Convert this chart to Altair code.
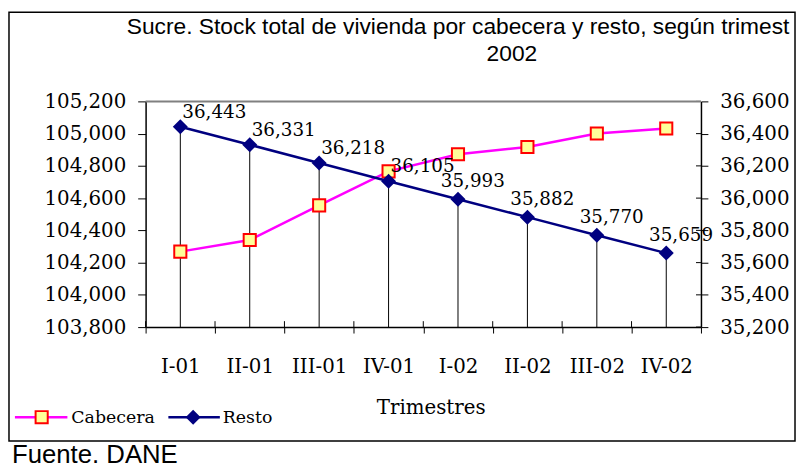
import altair as alt
import pandas as pd

# ---- data ----
trimestres = ["I-01", "II-01", "III-01", "IV-01", "I-02", "II-02", "III-02", "IV-02"]
cabecera = [104268, 104340, 104555, 104766, 104872, 104917, 105001, 105032]
resto = [36443, 36331, 36218, 36105, 35993, 35882, 35770, 35659]
left_ticks = [103800, 104000, 104200, 104400, 104600, 104800, 105000, 105200]
right_ticks = [35200, 35400, 35600, 35800, 36000, 36200, 36400, 36600]
series = ["Cabecera", "Resto"]
title_lines = ["Sucre. Stock total de vivienda por cabecera y resto, según trimest", "2002"]
source_text = "Fuente. DANE"
x_title = "Trimestres"

df = pd.DataFrame({"Trimestre": trimestres, "Cabecera": cabecera, "Resto": resto})
rt = pd.DataFrame({"t": right_ticks})
one = pd.DataFrame({"k": [0]})

W, H = 561, 228
SERIF = "DejaVu Serif"
SANS = "Liberation Sans"
MAGENTA = "#FF00FF"
NAVY = "#000080"

xscale = alt.Scale(type="band", paddingInner=0, paddingOuter=0)
x_axis = alt.Axis(
    title=x_title, labelAngle=0, tickBand="extent", tickSize=6, tickColor="black",
    tickWidth=1, domainColor="black", domainWidth=1.5, labelFont=SERIF, labelFontSize=20,
    labelColor="black", labelBaseline="alphabetic", labelPadding=40, titleFont=SERIF,
    titleFontSize=20, titleFontWeight="normal", titleColor="black", titleX=288,
    titleY=87, titleBaseline="alphabetic", titleAlign="center", grid=False,
)


def xenc(bp=0.5):
    return alt.X("Trimestre:N", sort=trimestres, scale=xscale, bandPosition=bp, axis=x_axis)


lscale = alt.Scale(domain=[103800, 105200], nice=False, zero=False)
rscale = alt.Scale(domain=[35200, 36600], nice=False, zero=False)

left_axis = alt.Axis(
    orient="left", values=left_ticks, format=",.0f", title=None, tickSize=8, tickColor="black",
    domainColor="black", domainWidth=1.5, labelFont=SERIF, labelFontSize=20,
    labelColor="black", labelPadding=12, grid=False,
)
right_axis = alt.Axis(
    orient="right", values=right_ticks, format=",.0f", title=None, tickSize=7, tickColor="black",
    domainColor="black", domainWidth=1.5, labelFont=SERIF, labelFontSize=20,
    labelColor="black", labelPadding=12, grid=False,
)

base = alt.Chart(df)

# group C: drop lines and inward ticks (right-value scale, no axis)
drop = base.mark_rule(color="black", strokeWidth=1).encode(
    x=xenc(), y=alt.Y("Resto:Q", scale=rscale, axis=None), y2=alt.value(H)
)
xin = base.mark_rule(color="black", strokeWidth=1).encode(
    x=xenc(0), y=alt.value(H - 6), y2=alt.value(H),
)
rin = alt.Chart(rt).mark_rule(color="black", strokeWidth=1).encode(
    y=alt.Y("t:Q", scale=rscale, axis=None), x=alt.value(W - 5), x2=alt.value(W)
)
top_line = alt.Chart(one).mark_rule(color="#808080", strokeWidth=2).encode(
    x=alt.value(0), x2=alt.value(W), y=alt.value(0)
)
groupC = alt.layer(drop, xin, rin, top_line)

# group A: Cabecera (left scale)
cab_line = base.mark_line(color=MAGENTA, strokeWidth=2.5).encode(
    x=xenc(), y=alt.Y("Cabecera:Q", scale=lscale, axis=left_axis)
)
cab_pts = base.mark_point(
    shape="square", size=150, filled=True, fill="#FFFF99", stroke="#FF0000",
    strokeWidth=2, opacity=1
).encode(x=xenc(), y=alt.Y("Cabecera:Q", scale=lscale, axis=left_axis))
groupA = alt.layer(cab_line, cab_pts)

# group B: Resto (right scale)
res_line = base.mark_line(color=NAVY, strokeWidth=2.5).encode(
    x=xenc(), y=alt.Y("Resto:Q", scale=rscale, axis=right_axis)
)
res_pts = base.mark_point(
    shape="diamond", size=230, filled=True, color=NAVY, opacity=1
).encode(x=xenc(), y=alt.Y("Resto:Q", scale=rscale, axis=right_axis))
lbl_enc = dict(
    x=xenc(), y=alt.Y("Resto:Q", scale=rscale, axis=right_axis),
    text=alt.Text("Resto:Q", format=","),
)
res_lbl1 = base.transform_filter(
    alt.FieldOneOfPredicate(field="Trimestre", oneOf=trimestres[:4])
).mark_text(
    align="left", baseline="alphabetic", dx=2, dy=-9, font=SERIF, fontSize=18.5, color="black"
).encode(**lbl_enc)
res_lbl2 = base.transform_filter(
    alt.FieldOneOfPredicate(field="Trimestre", oneOf=trimestres[4:])
).mark_text(
    align="center", baseline="alphabetic", dx=15, dy=-12, font=SERIF, fontSize=18.5, color="black"
).encode(**lbl_enc)
groupB = alt.layer(res_line, res_pts, res_lbl1, res_lbl2)

# decorations: border, title, legend, source
border = alt.Chart(one).mark_rect(
    fillOpacity=0, stroke="black", strokeWidth=1.5
).encode(x=alt.value(-138), x2=alt.value(656), y=alt.value(-90), y2=alt.value(343))
t1 = alt.Chart(one).mark_text(
    text=title_lines[0], align="left", baseline="alphabetic", font=SANS, fontSize=23, color="black"
).encode(x=alt.value(-19), y=alt.value(-68))
t2 = alt.Chart(one).mark_text(
    text=title_lines[1], align="center", baseline="alphabetic", font=SANS, fontSize=23, color="black"
).encode(x=alt.value(370), y=alt.value(-41))
src = alt.Chart(one).mark_text(
    text=source_text, align="left", baseline="alphabetic", font=SANS, fontSize=26, color="black"
).encode(x=alt.value(-135), y=alt.value(365))

leg_l1 = alt.Chart(one).mark_rule(color=MAGENTA, strokeWidth=2.5).encode(
    x=alt.value(-132), x2=alt.value(-79), y=alt.value(319))
leg_p1 = alt.Chart(one).mark_point(
    shape="square", size=150, filled=True, fill="#FFFF99", stroke="#FF0000", strokeWidth=2, opacity=1
).encode(x=alt.value(-105), y=alt.value(319))
leg_t1 = alt.Chart(one).mark_text(
    text=series[0], align="left", baseline="alphabetic", font=SERIF, fontSize=17.5, color="black"
).encode(x=alt.value(-75), y=alt.value(325))
leg_l2 = alt.Chart(one).mark_rule(color=NAVY, strokeWidth=2.5).encode(
    x=alt.value(23), x2=alt.value(75), y=alt.value(319))
leg_p2 = alt.Chart(one).mark_point(
    shape="diamond", size=230, filled=True, color=NAVY, opacity=1
).encode(x=alt.value(48), y=alt.value(319))
leg_t2 = alt.Chart(one).mark_text(
    text=series[1], align="left", baseline="alphabetic", font=SERIF, fontSize=17.5, color="black"
).encode(x=alt.value(78), y=alt.value(325))
deco = alt.layer(border, t1, t2, src, leg_l1, leg_p1, leg_t1, leg_l2, leg_p2, leg_t2)

chart = (
    alt.layer(groupC, groupA, groupB, deco)
    .resolve_scale(y="independent")
    .properties(
        width=W, height=H,
        autosize=alt.AutoSizeParams(type="none"),
        padding={"left": 139, "top": 92, "right": 96, "bottom": 141},
        background="white",
    )
    .configure_view(stroke=None)
)

chart.save("out.html", embed_options={"renderer": "svg", "actions": False})
